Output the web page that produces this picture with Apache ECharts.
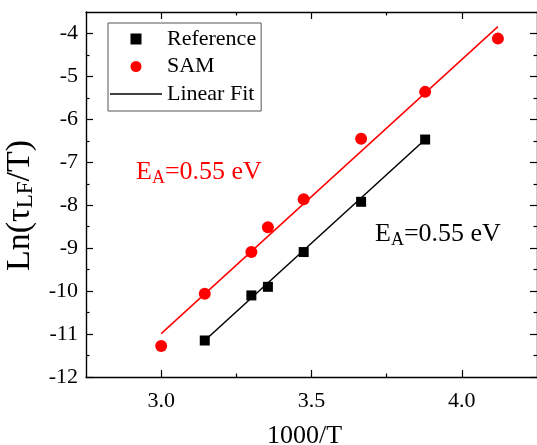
<!DOCTYPE html>
<html>
<head>
<meta charset="utf-8">
<script src="https://cdn.jsdelivr.net/npm/echarts@6/dist/echarts.min.js"></script>
<style>
html, body { margin: 0; padding: 0; background: #fff; }
#main { width: 537px; height: 445px; }
</style>
</head>
<body>
<div id="main"></div>
<script>
var dom = document.getElementById("main");
var myChart = echarts.init(dom);
var option = null;

// 1000/T values
var samX = [3.0, 3.145, 3.30, 3.355, 3.474, 3.665, 3.878, 4.12];
var samY = [-11.28, -10.06, -9.09, -8.51, -7.86, -6.45, -5.36, -4.12];
var refX = [3.145, 3.30, 3.355, 3.474, 3.665, 3.878];
var refY = [-11.15, -10.10, -9.90, -9.09, -7.92, -6.47];

// linear fit end points
var refFitX = [3.145, 3.878];
var refFitY = [-11.15, -6.47];
var samFitX = [3.0, 4.12];
var samFitY = [-10.99, -3.84];

// ticks
var xMajor = [3.0, 3.5, 4.0];
var xMinor = [3.25, 3.75];
var yMajor = [-12, -11, -10, -9, -8, -7, -6, -5, -4];
var yMinor = [-11.5, -10.5, -9.5, -8.5, -7.5, -6.5, -5.5, -4.5];

var font = "'Liberation Serif', 'Times New Roman', serif";

var zip = function (xs, ys) {
    var res = [];
    for (var i = 0; i < xs.length; i++) {
        res.push([xs[i], ys[i]]);
    }
    return res;
};

var axisBase = function (dim, pos, ticks, len, line, labels) {
    var a = {
        type: 'value',
        position: pos,
        min: dim == 'x' ? 2.75 : -12,
        max: dim == 'x' ? 4.25 : -3.5,
        splitLine: {show: false},
        axisLine: {show: line, onZero: false, lineStyle: {color: '#000', width: 1.4}},
        axisTick: {show: true, inside: true, length: len, customValues: ticks,
                   lineStyle: {color: '#000', width: 1.2}},
        axisLabel: {show: false}
    };
    if (labels) {
        a.axisLabel = {
            show: true,
            customValues: ticks,
            color: '#000',
            fontFamily: font,
            fontSize: 22,
            margin: dim == 'x' ? 13 : 8,
            formatter: function (v) {
                return dim == 'x' ? v.toFixed(1) : String(v);
            }
        };
    }
    return a;
};

var xb = axisBase('x', 'bottom', xMajor, 7, true, true);
xb.name = '1000/T';
xb.nameLocation = 'middle';
xb.nameGap = 46;
xb.nameTextStyle = {color: '#000', fontFamily: font, fontSize: 26, padding: [0, 14, 0, 0]};

var yl = axisBase('y', 'left', yMajor, 7, true, true);
yl.name = '{m|Ln(τ}{s|LF}{m|/T)}';
yl.nameLocation = 'middle';
yl.nameGap = 42;
yl.nameTextStyle = {
    color: '#000',
    padding: [0, 22, 0, 0],
    rich: {
        m: {fontFamily: font, fontSize: 34, lineHeight: 36, color: '#000'},
        s: {fontFamily: font, fontSize: 23, lineHeight: 23, color: '#000', verticalAlign: 'bottom'}
    }
};

var annot = function (color) {
    return {
        m: {fontFamily: font, fontSize: 26, lineHeight: 30, fill: color},
        s: {fontFamily: font, fontSize: 18, lineHeight: 18, fill: color, verticalAlign: 'bottom'}
    };
};

option = {
    backgroundColor: '#fff',
    animation: false,
    grid: {left: 86, top: 12, width: 451, height: 365, containLabel: false, outerBoundsMode: 'none'},
    legend: {
        left: 108,
        top: 23,
        orient: 'vertical',
        padding: [4, 5, 5, 2],
        itemGap: 3.5,
        itemWidth: 52,
        itemHeight: 11,
        symbolKeepAspect: true,
        borderColor: '#555',
        borderWidth: 1,
        textStyle: {fontFamily: font, fontSize: 22, color: '#000', lineHeight: 24},
        data: [
            {name: 'Reference', icon: 'path://M0,0L10,0L10,10L0,10Z'},
            {name: 'SAM', icon: 'circle'},
            {name: 'Linear Fit', icon: 'path://M0,0L52,0L52,1.6L0,1.6Z'}
        ]
    },
    xAxis: [
        xb,
        axisBase('x', 'bottom', xMinor, 3.5, false, false),
        axisBase('x', 'top', xMajor, 7, true, false),
        axisBase('x', 'top', xMinor, 3.5, false, false)
    ],
    yAxis: [
        yl,
        axisBase('y', 'left', yMinor, 3.5, false, false),
        axisBase('y', 'right', yMajor, 7, true, false),
        axisBase('y', 'right', yMinor, 3.5, false, false)
    ],
    graphic: [
        {
            type: 'text',
            left: 136,
            top: 159,
            style: {text: '{m|E}{s|A}{m|=0.55 eV}', rich: annot('#ff0000')}
        },
        {
            type: 'text',
            left: 375,
            top: 221,
            style: {text: '{m|E}{s|A}{m|=0.55 eV}', rich: annot('#000')}
        }
    ],
    series: [
        {
            name: 'Linear Fit',
            type: 'line',
            data: zip(refFitX, refFitY),
            symbol: 'none',
            lineStyle: {color: '#000', width: 1.5},
            itemStyle: {color: '#000'},
            z: 2
        },
        {
            name: 'Linear Fit',
            type: 'line',
            data: zip(samFitX, samFitY),
            symbol: 'none',
            lineStyle: {color: '#ff0000', width: 1.5},
            itemStyle: {color: '#ff0000'},
            z: 2
        },
        {
            name: 'Reference',
            type: 'scatter',
            data: zip(refX, refY),
            symbol: 'rect',
            symbolSize: 10,
            itemStyle: {color: '#000', opacity: 1},
            z: 3
        },
        {
            name: 'SAM',
            type: 'scatter',
            data: zip(samX, samY),
            symbol: 'circle',
            symbolSize: 12,
            itemStyle: {color: '#ff0000', opacity: 1},
            z: 3
        }
    ]
};

if (option && typeof option === "object") {
    myChart.setOption(option, true);
}
</script>
</body>
</html>
